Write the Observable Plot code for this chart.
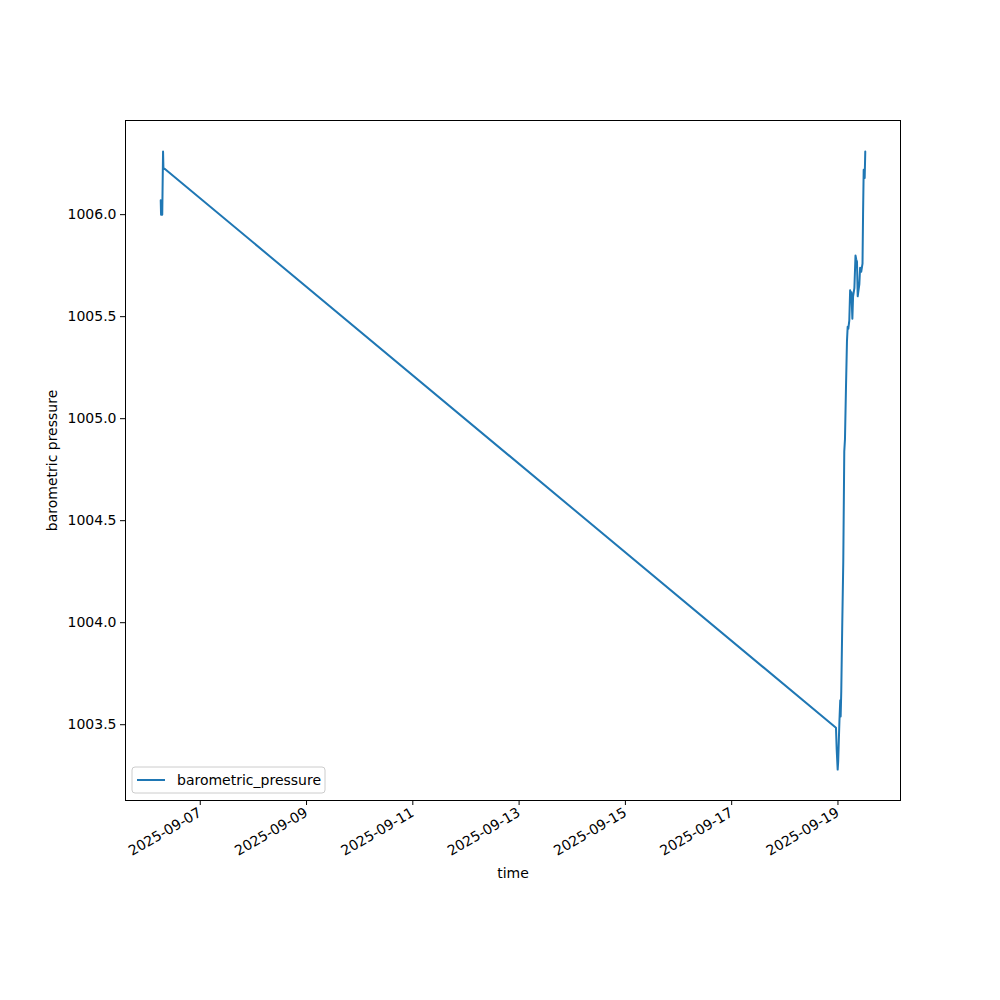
<!DOCTYPE html>
<html><head><meta charset="utf-8">
<script src="https://cdn.jsdelivr.net/npm/d3@7"></script>
<script src="https://cdn.jsdelivr.net/npm/@observablehq/plot@0.6"></script>
<style>body{margin:0;background:#fff}#chart{width:1000px;height:1000px}</style>
</head><body><div id="chart"></div>
<script>
// Timestamps (UTC) and barometric pressure readings
const times = [
  "2025-09-06T06:09","2025-09-06T06:18","2025-09-06T06:50","2025-09-06T07:12","2025-09-06T07:22",
  "2025-09-18T23:06","2025-09-18T23:25","2025-09-18T23:52","2025-09-19T00:06","2025-09-19T00:40",
  "2025-09-19T01:02","2025-09-19T01:13","2025-09-19T01:29","2025-09-19T01:57","2025-09-19T02:24",
  "2025-09-19T02:51","2025-09-19T03:10","2025-09-19T03:37","2025-09-19T04:04","2025-09-19T04:23",
  "2025-09-19T04:40","2025-09-19T05:07","2025-09-19T05:30","2025-09-19T05:45","2025-09-19T06:05",
  "2025-09-19T06:30","2025-09-19T06:50","2025-09-19T07:25","2025-09-19T07:55","2025-09-19T08:15",
  "2025-09-19T08:35","2025-09-19T08:55","2025-09-19T09:10","2025-09-19T09:40","2025-09-19T10:00",
  "2025-09-19T10:30","2025-09-19T11:05","2025-09-19T11:20","2025-09-19T11:37","2025-09-19T11:50",
  "2025-09-19T12:04","2025-09-19T12:20"
];
const pressure = [
  1006.07, 1006.00, 1006.00, 1006.31, 1006.23,
  1003.485, 1003.38, 1003.28, 1003.32, 1003.52,
  1003.62, 1003.54, 1003.66, 1004.00, 1004.30,
  1004.84, 1004.90, 1005.15, 1005.38, 1005.45,
  1005.44, 1005.48, 1005.63, 1005.58, 1005.62,
  1005.49, 1005.60, 1005.64, 1005.80, 1005.78,
  1005.77, 1005.60, 1005.62, 1005.66, 1005.74,
  1005.72, 1005.76, 1006.00, 1006.22, 1006.20,
  1006.18, 1006.31
];
const xTickLabels = ["2025-09-07","2025-09-09","2025-09-11","2025-09-13","2025-09-15","2025-09-17","2025-09-19"];
const yTicks = [1003.5, 1004.0, 1004.5, 1005.0, 1005.5, 1006.0];
const seriesName = "barometric_pressure";

const data = times.map((t, i) => ({time: new Date(t + "Z"), value: pressure[i]}));
const [x0, x1] = d3.extent(data, d => d.time);
const xp = (x1 - x0) * 0.05;
const [y0, y1] = d3.extent(pressure);
const yp = (y1 - y0) * 0.05;

const chart = Plot.plot({
  width: 1000, height: 1000,
  marginLeft: 125, marginRight: 100, marginTop: 120, marginBottom: 200,
  style: {fontFamily: "DejaVu Sans", fontSize: "14px", color: "#000", background: "#fff", overflow: "visible"},
  x: {type: "utc", domain: [new Date(+x0 - xp), new Date(+x1 + xp)]},
  y: {domain: [y0 - yp, y1 + yp]},
  marks: [
    Plot.axisX({ticks: xTickLabels.map(s => new Date(s + "T00:00Z")), tickFormat: d3.utcFormat("%Y-%m-%d"),
      tickRotate: -30, tickSize: 5, tickPadding: 6, label: "time", labelAnchor: "center", labelArrow: "none", labelOffset: 77}),
    Plot.axisY({ticks: yTicks, tickFormat: d3.format(".1f"), tickSize: 5, tickPadding: 4,
      label: "barometric pressure", labelAnchor: "center", labelArrow: "none", labelOffset: 78}),
    Plot.lineY(data, {x: "time", y: "value", stroke: "#1f77b4", strokeWidth: 2}),
    Plot.frame({stroke: "#000", strokeWidth: 1})
  ]
});
document.getElementById("chart").appendChild(chart);

// legend inside the plot, lower-left corner
const svg = d3.select(chart);
const lg = svg.append("g").attr("transform", "translate(132,767)");
lg.append("rect").attr("width", 193).attr("height", 26).attr("rx", 3)
  .attr("fill", "#fff").attr("fill-opacity", 0.8).attr("stroke", "#cccccc");
lg.append("line").attr("x1", 5).attr("x2", 33).attr("y1", 13).attr("y2", 13)
  .attr("stroke", "#1f77b4").attr("stroke-width", 2);
lg.append("text").attr("x", 45).attr("y", 13).attr("dy", "0.35em").attr("text-anchor", "start")
  .attr("font-family", "DejaVu Sans").attr("font-size", 14).attr("fill", "#000").text(seriesName);
</script>
</body></html>
